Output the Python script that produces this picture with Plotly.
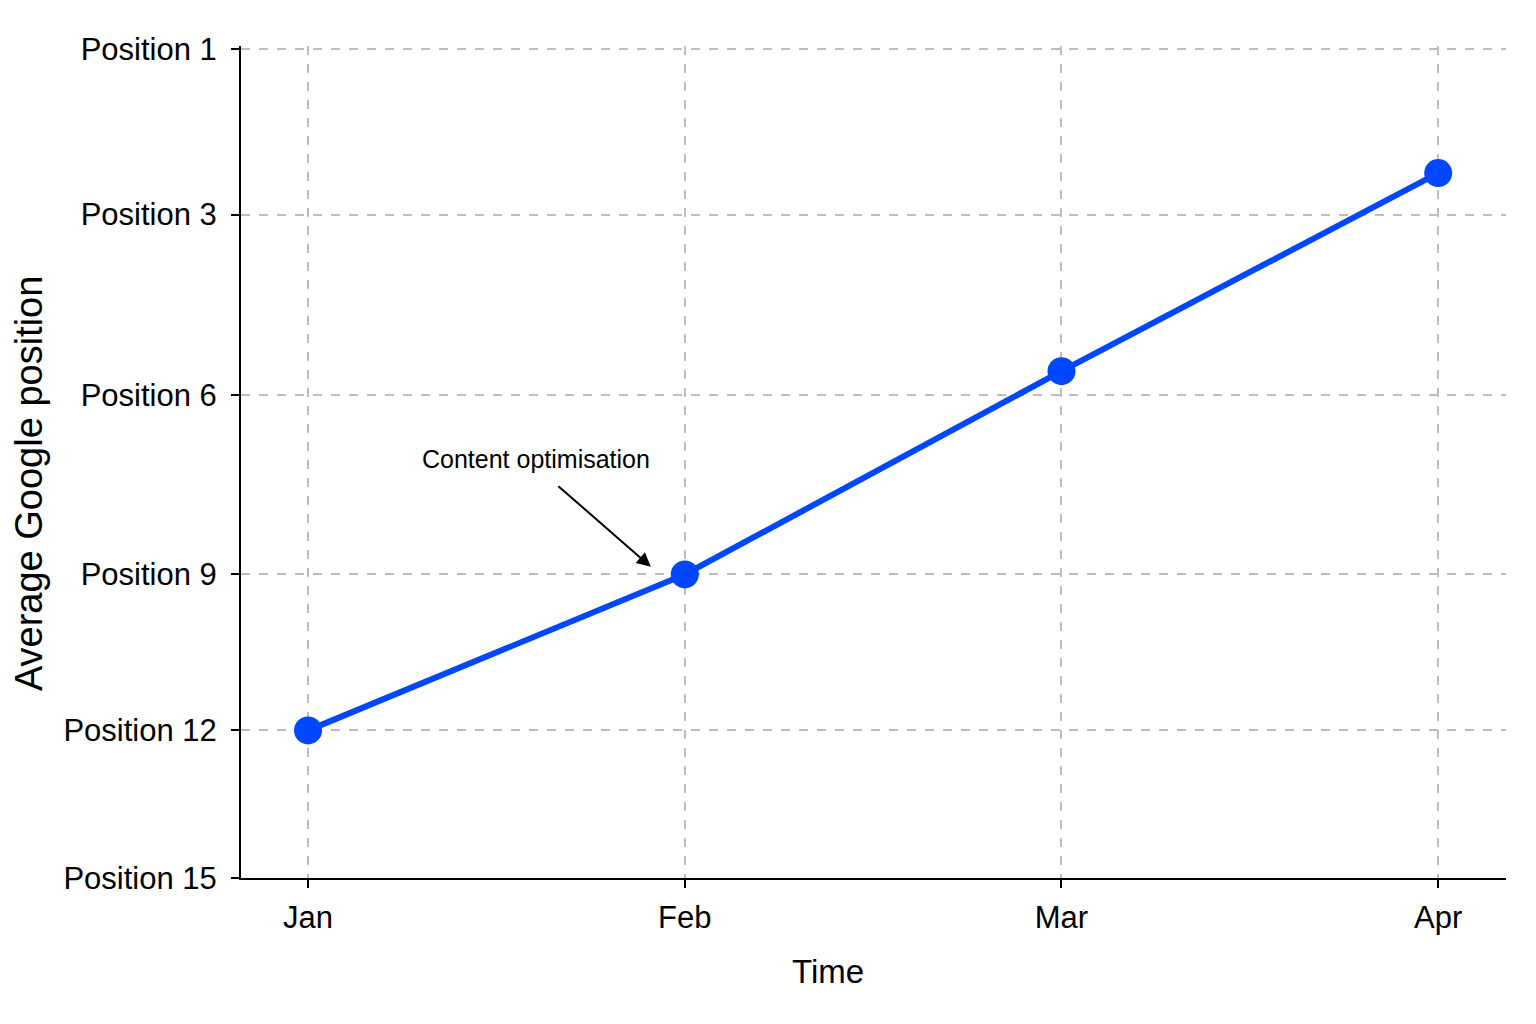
import numpy as np
import plotly.graph_objects as go

months = ["Jan", "Feb", "Mar", "Apr"]
avg_position = [12, 9, 5.6, 2.5]

tick_positions = [1, 3, 6, 9, 12, 15]
tick_labels = ["Position 1", "Position 3", "Position 6", "Position 9", "Position 12", "Position 15"]

# the y axis in the original is not linear in position, so each tick gets its own height
tick_heights = [5.0, 4.0, 2.91, 1.83, 0.89, 0.0]
y_vals = np.interp(avg_position, tick_positions, tick_heights)

blue = "#0047ff"
font = "Liberation Sans"

fig = go.Figure()
fig.add_trace(go.Scatter(
    x=months, y=y_vals, mode="lines+markers",
    line=dict(color=blue, width=6),
    marker=dict(color=blue, size=28),
    showlegend=False,
))

fig.add_annotation(
    text="Content optimisation", xref="paper", yref="paper",
    x=0.233, y=0.504, xanchor="center", yanchor="middle", showarrow=False,
    font=dict(family=font, size=25, color="black"),
)
fig.add_annotation(
    text="", xref="paper", yref="paper", x=0.324, y=0.374,
    ax=-94, ay=-82, showarrow=True,
    arrowhead=2, arrowsize=1.4, arrowwidth=2, arrowcolor="black", standoff=0,
)
fig.add_annotation(
    text="Time", xref="paper", yref="paper", x=0.464, y=-0.112,
    xanchor="center", yanchor="middle", showarrow=False,
    font=dict(family=font, size=33, color="black"),
)
fig.add_annotation(
    text="Average Google position", xref="paper", yref="paper", x=-0.168, y=0.474,
    xanchor="center", yanchor="middle", textangle=-90, showarrow=False,
    font=dict(family=font, size=38, color="black"),
)

grid = dict(showgrid=True, gridcolor="#bdbdbd", gridwidth=1.5, griddash="dash")
fig.update_xaxes(
    type="category", range=[-0.178, 3.18], **grid,
    showline=True, linecolor="black", linewidth=2,
    ticks="outside", ticklen=8, tickwidth=2, tickcolor="black",
    ticklabelstandoff=3,
    tickfont=dict(family=font, size=31, color="black"),
    zeroline=False, automargin=False,
)
fig.update_yaxes(
    range=[0, 5.016], tickmode="array", tickvals=tick_heights, ticktext=tick_labels,
    **grid,
    showline=True, linecolor="black", linewidth=2,
    ticks="outside", ticklen=8, tickwidth=2, tickcolor="black",
    ticklabelstandoff=8,
    tickfont=dict(family=font, size=31, color="black"),
    zeroline=False, automargin=False,
)
fig.update_layout(
    width=1536, height=1024,
    margin=dict(l=233, r=38, t=38, b=154),
    plot_bgcolor="white", paper_bgcolor="white",
)

fig.write_html("out.html", config={"displayModeBar": False})
